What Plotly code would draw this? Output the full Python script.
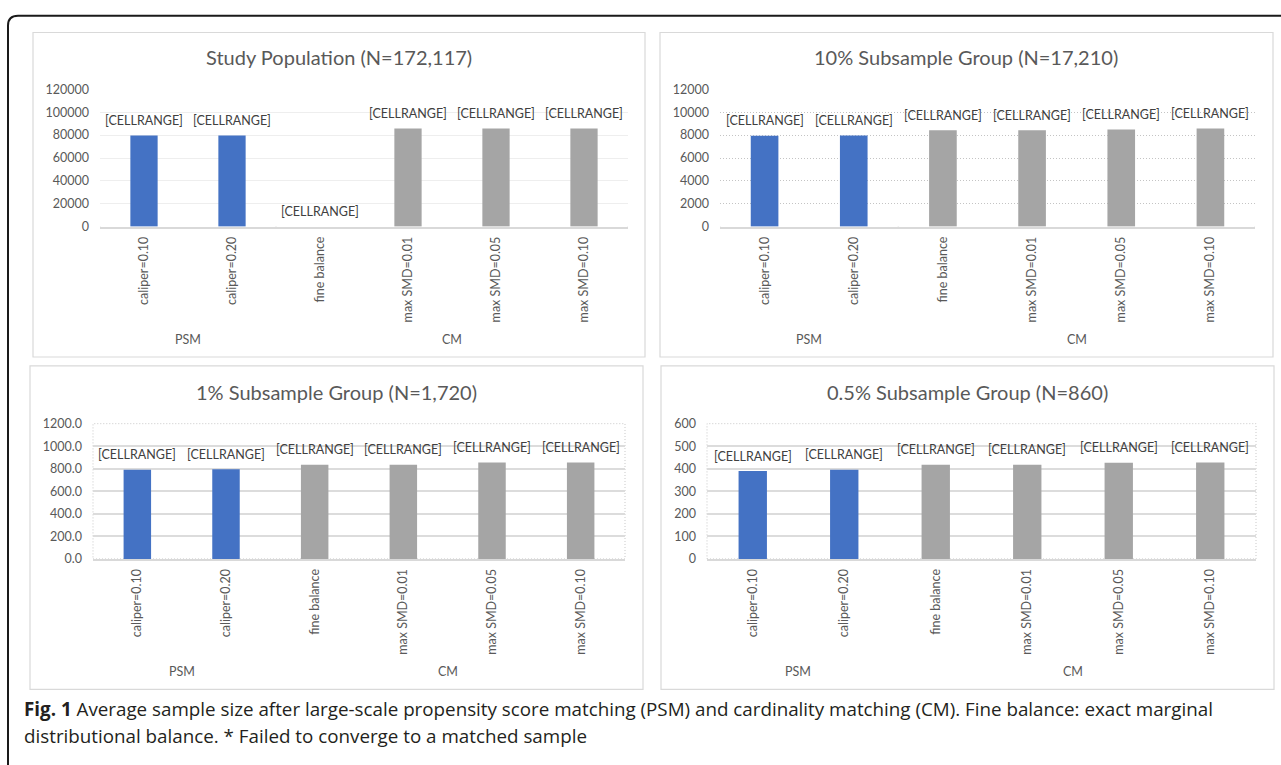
import plotly.graph_objects as go

# ---- data -------------------------------------------------------------
groups = ["PSM", "PSM", "CM", "CM", "CM", "CM"]
methods = ["caliper=0.10", "caliper=0.20", "fine balance",
           "max SMD=0.01", "max SMD=0.05", "max SMD=0.10"]

titles = ["Study Population (N=172,117)",
          "10% Subsample Group (N=17,210)",
          "1% Subsample Group (N=1,720)",
          "0.5% Subsample Group (N=860)"]

study_population = [79700, 79750, 0, 85700, 85700, 85700]
subsample_10 = [7950, 7960, 8420, 8420, 8490, 8570]
subsample_1 = [792, 796, 836, 836, 855, 856]
subsample_05 = [390, 396, 418, 418, 427, 428]

y_max = [120000, 12000, 1200, 600]
y_step = [20000, 2000, 200, 100]
y_format = ["d", "d", ".1f", "d"]

label_text = "[CELLRANGE]"
caption_1 = ("<b>Fig. 1</b> Average sample size after large-scale propensity score "
             "matching (PSM) and cardinality matching (CM). Fine balance: exact marginal")
caption_2 = "distributional balance. * Failed to converge to a matched sample"

# ---- styling / layout ---------------------------------------------------
W, H = 1281, 765
FONT = "Lato"
group_colors = {"PSM": "#4472C4", "CM": "#A5A5A5"}

# pixel geometry of each panel: outer box, plot area, title centre
panels = [
    dict(box=(33, 25, 645, 356), plot=(100, 83, 628, 223), title_y=50,
         grid=dict(gridcolor="#eeeeee", griddash="solid", gridwidth=1), border=False),
    dict(box=(660, 25, 1273, 356), plot=(720, 83, 1255, 223), title_y=50,
         grid=dict(gridcolor="#c4c4c4", griddash="1px,2px", gridwidth=1), border=False),
    dict(box=(30, 365, 643, 695), plot=(93, 424, 625, 562), title_y=392,
         grid=dict(gridcolor="#dcdcdc", griddash="solid", gridwidth=1.5), border=True),
    dict(box=(661, 365, 1274, 695), plot=(707, 424, 1256, 562), title_y=392,
         grid=dict(gridcolor="#dcdcdc", griddash="solid", gridwidth=1.5), border=True),
]
series = [study_population, subsample_10, subsample_1, subsample_05]


def px_x(x):
    return x / W


def px_y(y):
    return 1 - y / H


fig = go.Figure()
shapes = []
annotations = []

for i, (panel, values) in enumerate(zip(panels, series)):
    n = "" if i == 0 else str(i + 1)
    xa, ya = "x" + n, "y" + n
    bx0, by0, bx1, by1 = panel["box"]
    px0, py0, px1, py1 = panel["plot"]

    fig.add_trace(go.Bar(
        x=methods, y=values, xaxis=xa, yaxis=ya,
        marker=dict(color=[group_colors[g] for g in groups], line=dict(width=0)),
        showlegend=False, hoverinfo="x+y",
    ))

    fig.layout["xaxis" + n] = dict(
        domain=[px_x(px0), px_x(px1)], anchor=ya, type="category",
        categoryorder="array", categoryarray=methods,
        tickangle=-90, ticks="", showgrid=False, zeroline=False,
        showline=True, linecolor="#d9d9d9", linewidth=2,
        tickfont=dict(family=FONT, size=12.5, color="#595959"),
        ticklabelstandoff=3, range=[-0.5, len(methods) - 0.5], fixedrange=True,
    )
    fig.layout["yaxis" + n] = dict(
        domain=[px_y(py1), px_y(py0)], anchor=xa,
        range=[0, y_max[i]], dtick=y_step[i], tick0=0, tickformat=y_format[i],
        showline=False, zeroline=False, showgrid=True, ticks="",
        tickfont=dict(family=FONT, size=12.5, color="#595959"),
        ticklabelstandoff=10, fixedrange=True, **panel["grid"],
    )

    # panel frame
    shapes.append(dict(type="rect", xref="paper", yref="paper",
                       x0=px_x(bx0), x1=px_x(bx1), y0=px_y(by1), y1=px_y(by0),
                       line=dict(color="#d9d9d9", width=1.2), layer="below"))
    # dotted plot-area border
    if panel["border"]:
        shapes.append(dict(type="rect", xref=xa + " domain", yref=ya + " domain",
                           x0=0, x1=1, y0=0, y1=1,
                           line=dict(color="#c8c8c8", width=1, dash="1px,2px"),
                           layer="below"))

    # group separators and group labels of the two-level category axis
    bounds = [-0.5]
    for k in range(1, len(groups)):
        if groups[k] != groups[k - 1]:
            bounds.append(k - 0.5)
    bounds.append(len(groups) - 0.5)
    for b in bounds:
        shapes.append(dict(type="line", xref=xa, yref=ya, x0=b, x1=b,
                           ysizemode="pixel", yanchor=0, y0=0, y1=-125,
                           line=dict(color="#d9d9d9", width=1.5)))
    for a, b in zip(bounds[:-1], bounds[1:]):
        g = groups[int(a + 0.5)]
        annotations.append(dict(xref=xa, yref=ya, x=(a + b) / 2, y=0, yshift=-113,
                                text=g, showarrow=False, xanchor="center", yanchor="middle",
                                font=dict(family=FONT, size=12.5, color="#595959")))

    # data labels
    for m, v in zip(methods, values):
        annotations.append(dict(xref=xa, yref=ya, x=m, y=v, yshift=15,
                                text=label_text, showarrow=False,
                                xanchor="center", yanchor="middle",
                                font=dict(family=FONT, size=12.5, color="#404040")))

    # panel title
    annotations.append(dict(xref="paper", yref="paper",
                            x=px_x((bx0 + bx1) / 2), y=px_y(panel["title_y"]),
                            text=titles[i], showarrow=False,
                            xanchor="center", yanchor="middle",
                            font=dict(family=FONT, size=20, color="#595959")))

# outer rounded frame (open to the right and bottom edges)
r = 10
frame_path = (f"M {px_x(8)},{px_y(800)} L {px_x(8)},{px_y(8 + r)} "
              f"Q {px_x(8)},{px_y(8)} {px_x(8 + r)},{px_y(8)} L {px_x(1300)},{px_y(8)}")
shapes.append(dict(type="path", xref="paper", yref="paper", path=frame_path,
                   line=dict(color="#1a1a1a", width=2)))

# caption
for text, yy in [(caption_1, 715), (caption_2, 743)]:
    annotations.append(dict(xref="paper", yref="paper", x=px_x(22), y=px_y(yy),
                            xanchor="left", yanchor="middle", text=text,
                            showarrow=False, align="left",
                            font=dict(family="Open Sans", size=18.8, color="#231f20")))

fig.update_layout(
    width=W, height=H, margin=dict(l=0, r=0, t=0, b=0),
    paper_bgcolor="white", plot_bgcolor="white",
    bargap=0.69, shapes=shapes, annotations=annotations,
    font=dict(family=FONT),
)

fig.write_html("out.html", config={"displayModeBar": False})
